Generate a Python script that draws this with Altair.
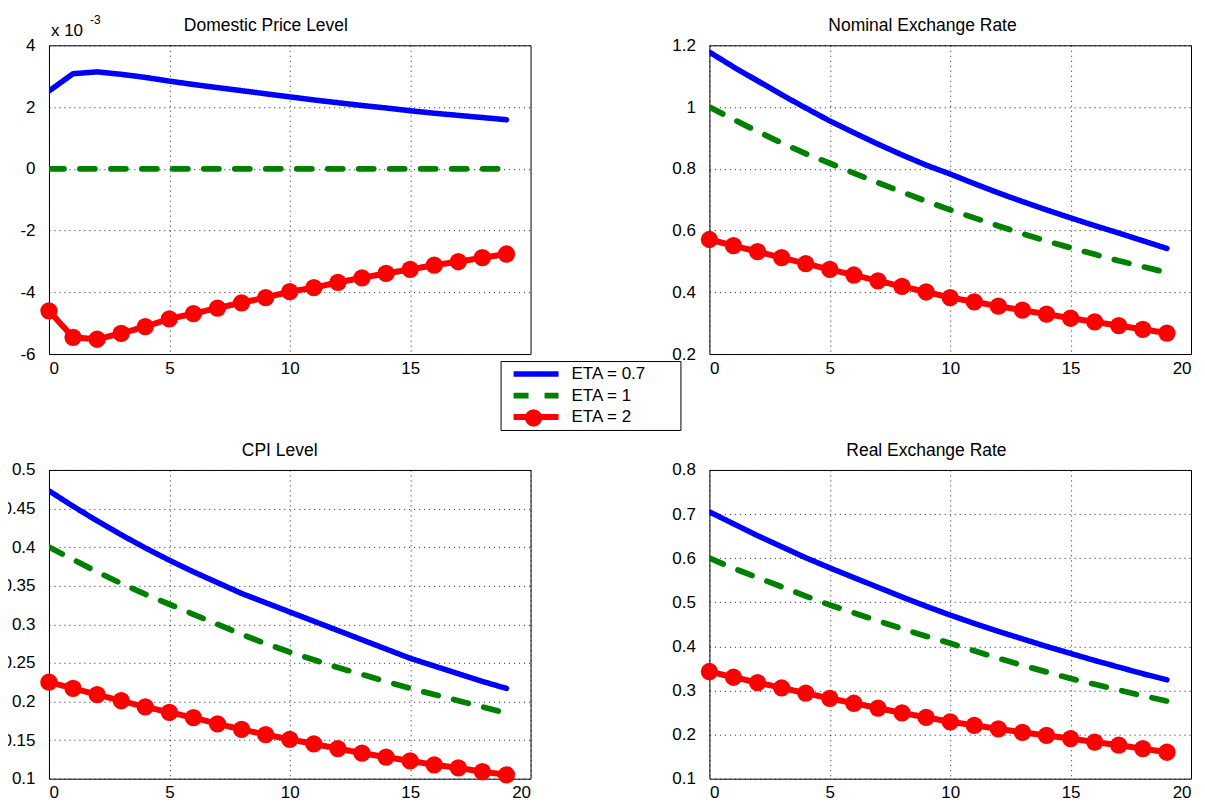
import altair as alt
import pandas as pd

periods = list(range(20))
series_names = ["ETA = 0.7", "ETA = 1", "ETA = 2"]
series_colors = ["#0000ff", "#008000", "#ff0000"]

# Domestic Price Level (values in units of 10^-3)
dom_eta07 = [2.52, 3.08, 3.14, 3.06, 2.96, 2.84, 2.73, 2.63, 2.53, 2.43,
             2.33, 2.23, 2.14, 2.05, 1.97, 1.88, 1.80, 1.73, 1.66, 1.59]
dom_eta1 = [0.0, 0.0, 0.0, 0.0, 0.0, 0.0, 0.0, 0.0, 0.0, 0.0,
            0.0, 0.0, 0.0, 0.0, 0.0, 0.0, 0.0, 0.0, 0.0, 0.0]
dom_eta2 = [-4.60, -5.46, -5.52, -5.33, -5.11, -4.86, -4.69, -4.51, -4.34, -4.17,
            -3.98, -3.85, -3.68, -3.53, -3.39, -3.26, -3.12, -3.01, -2.88, -2.76]

# Nominal Exchange Rate
ner_eta07 = [1.178, 1.130, 1.085, 1.040, 0.997, 0.955, 0.917, 0.880, 0.845, 0.812,
             0.783, 0.752, 0.722, 0.694, 0.667, 0.641, 0.616, 0.592, 0.567, 0.542]
ner_eta1 = [1.000, 0.960, 0.921, 0.884, 0.849, 0.818, 0.786, 0.755, 0.725, 0.695,
            0.667, 0.641, 0.615, 0.590, 0.566, 0.544, 0.523, 0.502, 0.483, 0.464]
ner_eta2 = [0.571, 0.551, 0.532, 0.512, 0.493, 0.474, 0.456, 0.437, 0.419, 0.401,
            0.383, 0.369, 0.355, 0.342, 0.329, 0.316, 0.304, 0.292, 0.280, 0.268]

# CPI Level
cpi_eta07 = [0.473, 0.453, 0.434, 0.416, 0.399, 0.383, 0.368, 0.354, 0.340, 0.328,
             0.316, 0.304, 0.292, 0.280, 0.268, 0.256, 0.246, 0.236, 0.226, 0.217]
cpi_eta1 = [0.400, 0.384, 0.368, 0.353, 0.339, 0.326, 0.313, 0.300, 0.287, 0.275,
            0.264, 0.254, 0.244, 0.235, 0.226, 0.217, 0.209, 0.201, 0.193, 0.185]
cpi_eta2 = [0.225, 0.217, 0.209, 0.201, 0.193, 0.186, 0.179, 0.171, 0.164, 0.157,
            0.151, 0.145, 0.139, 0.133, 0.128, 0.123, 0.118, 0.114, 0.109, 0.105]

# Real Exchange Rate
rer_eta07 = [0.705, 0.678, 0.651, 0.626, 0.601, 0.578, 0.556, 0.534, 0.512, 0.491,
             0.471, 0.452, 0.434, 0.417, 0.400, 0.384, 0.368, 0.353, 0.338, 0.324]
rer_eta1 = [0.600, 0.577, 0.556, 0.535, 0.514, 0.494, 0.476, 0.458, 0.440, 0.423,
            0.407, 0.390, 0.373, 0.357, 0.342, 0.327, 0.314, 0.301, 0.288, 0.276]
rer_eta2 = [0.343, 0.330, 0.318, 0.306, 0.294, 0.282, 0.271, 0.260, 0.249, 0.239,
            0.229, 0.221, 0.213, 0.205, 0.198, 0.191, 0.183, 0.176, 0.168, 0.160]

FONT = "Liberation Sans"
PW, PH = 482, 309

# invisible legend title on the right, only to widen the legend box like the original
LEGEND_KW = dict(title="00", titleOrient="right", titleOpacity=0, titlePadding=12,
                 titleFontSize=17)


def long_frame(a, b, c):
    rows = []
    for name, vals in zip(series_names, [a, b, c]):
        for t, v in zip(periods, vals):
            rows.append({"t": t, "v": v, "s": name})
    return pd.DataFrame(rows)


one_row = pd.DataFrame({"k": [0]})


def label_text(text, dx, dy, size):
    return alt.Chart(one_row).mark_text(
        align="left", baseline="alphabetic", fontSize=size, font=FONT,
        text=text, color="#000"
    ).encode(x=alt.value(dx), y=alt.value(dy))


def panel(title, dx, df, ydom, yvals, xvals, ylabel_expr=None, extra=None):
    if ylabel_expr:
        yaxis = alt.Axis(values=yvals, title=None, labelExpr=ylabel_expr)
    else:
        yaxis = alt.Axis(values=yvals, title=None, format="~g")
    base = alt.Chart(df)
    x = alt.X("t:Q", scale=alt.Scale(domain=[0, 20], nice=False, zero=False),
              axis=alt.Axis(values=xvals, title=None, format="d"))
    y = alt.Y("v:Q", scale=alt.Scale(domain=ydom, nice=False, zero=False), axis=yaxis)
    lines = base.mark_line(strokeCap="round", strokeJoin="round", clip=True).encode(
        x=x, y=y,
        color=alt.Color("s:N", scale=alt.Scale(domain=series_names, range=series_colors),
                        legend=alt.Legend(**LEGEND_KW)),
        strokeDash=alt.StrokeDash("s:N", scale=alt.Scale(domain=series_names,
                                                         range=[[1, 0], [15, 16], [1, 0]]),
                                  legend=alt.Legend(**LEGEND_KW)),
        strokeWidth=alt.StrokeWidth("s:N", scale=alt.Scale(domain=series_names,
                                                           range=[5.5, 6, 4.5]),
                                    legend=None),
    )
    pts = base.transform_filter(alt.datum.s == "ETA = 2").transform_calculate(
        m="'ETA = 2'"
    ).mark_point(filled=True, size=300, opacity=1, shape="circle", strokeWidth=0).encode(
        x=x, y=y,
        fill=alt.Fill("m:N", scale=alt.Scale(domain=["ETA = 2"], range=["#ff0000"]),
                      legend=alt.Legend(
                          title=None, orient="none", legendX=476, legendY=363,
                          symbolType="circle", symbolSize=300, symbolStrokeWidth=0,
                          labelExpr="''", padding=0, strokeColor="transparent",
                          fillColor="transparent", symbolOffset=0, zindex=5,
                      )),
    )
    layers = [lines, pts, label_text(title, dx, -14, 17.5)]
    if extra is not None:
        layers += extra
    return alt.layer(*layers).properties(width=PW, height=PH)


tl = panel("Domestic Price Level", 135, long_frame(dom_eta07, dom_eta1, dom_eta2),
           [-6, 4], [-6, -4, -2, 0, 2, 4], [0, 5, 10, 15],
           ylabel_expr="'' + datum.value",
           extra=[label_text("x 10", 2, -9, 17), label_text("-3", 41, -21, 12)])
tr = panel("Nominal Exchange Rate", 119, long_frame(ner_eta07, ner_eta1, ner_eta2),
           [0.2, 1.2], [0.2, 0.4, 0.6, 0.8, 1.0, 1.2], [0, 5, 10, 15, 20])
bl = panel("CPI Level", 193, long_frame(cpi_eta07, cpi_eta1, cpi_eta2),
           [0.1, 0.5], [0.1, 0.15, 0.2, 0.25, 0.3, 0.35, 0.4, 0.45, 0.5], [0, 5, 10, 15, 20])
br = panel("Real Exchange Rate", 137, long_frame(rer_eta07, rer_eta1, rer_eta2),
           [0.1, 0.8], [0.1, 0.2, 0.3, 0.4, 0.5, 0.6, 0.7, 0.8], [0, 5, 10, 15, 20])

chart = alt.concat(
    tl, tr, bl, br, columns=2,
    spacing=alt.RowColnumber(row=116, column=179), bounds="flush"
).properties(
    padding={"left": -7, "top": 5, "right": 5, "bottom": 5},
    background="white",
).configure_view(
    stroke="#000", strokeWidth=1
).configure_axis(
    domain=False, ticks=False, grid=True, gridColor="#000", gridDash=[1, 4],
    gridOpacity=0.9, gridWidth=1, labelFont=FONT, labelFontSize=17, labelColor="#000",
    labelPadding=14,
).configure_axisX(
    labelPadding=6,
).configure_legend(
    orient="none", legendX=452, legendY=316, strokeColor="#000", fillColor="#fff",
    padding=3, labelFont=FONT, labelFontSize=17, labelColor="#000",
    symbolType="stroke", symbolSize=2025, symbolStrokeWidth=5, symbolOffset=7,
    labelOffset=10, rowPadding=1.5, clipHeight=20, cornerRadius=0,
)

chart.save("out.html", embed_options={"renderer": "svg", "actions": False})
